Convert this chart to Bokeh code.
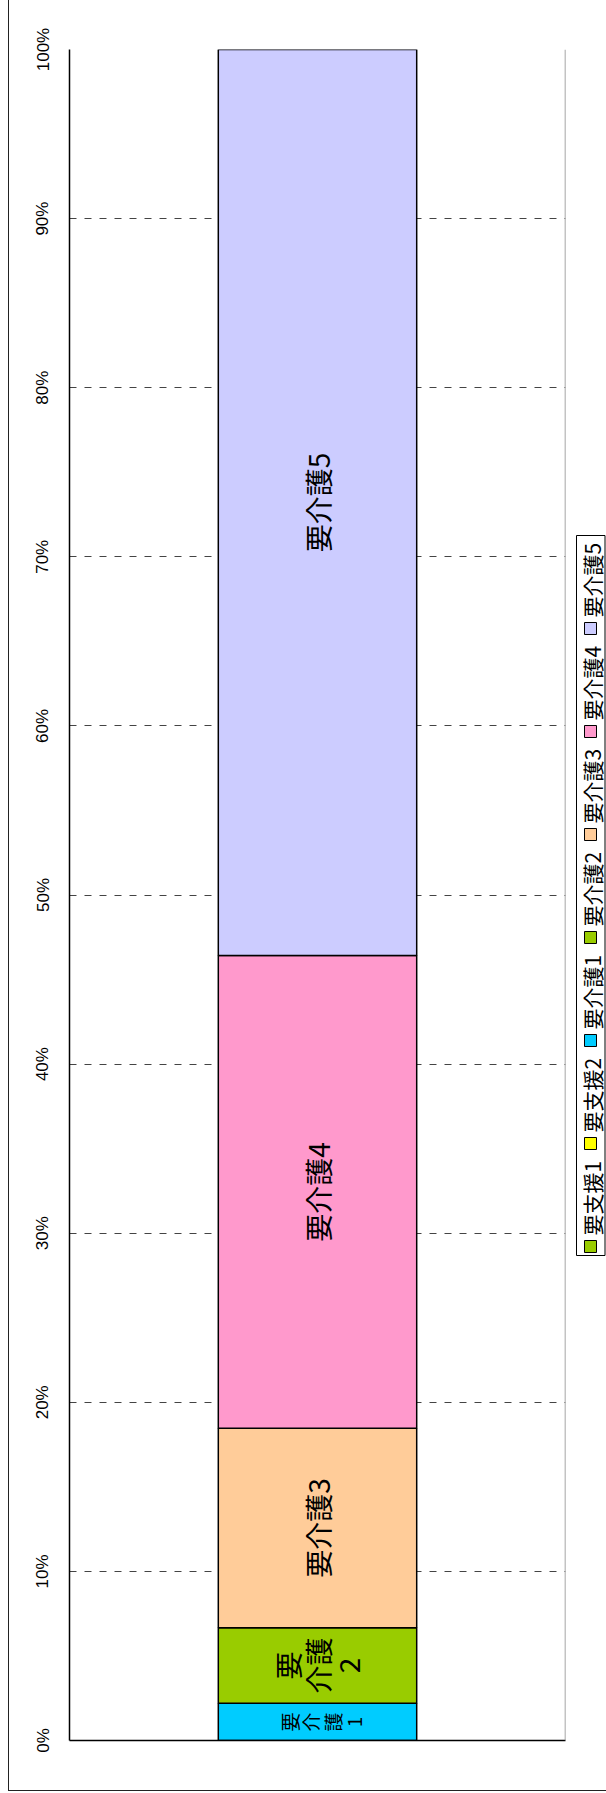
import numpy as np
from bokeh.plotting import figure
from bokeh.models import Range1d, FixedTicker, PrintfTickFormatter, Span, ColumnDataSource
from bokeh.layouts import row
from bokeh.core.properties import value
from bokeh.embed import file_html
from bokeh.resources import INLINE

# ---- data ----
categories = ["要支援1", "要支援2", "要介護1", "要介護2", "要介護3", "要介護4", "要介護5"]
shares = [0.0, 0.0, 2.2, 4.47, 11.8, 27.95, 53.58]
colors = ["#99CC00", "#FFFF00", "#00CCFF", "#99CC00", "#FFCC99", "#FF99CC", "#CCCCFF"]
seg_labels = ["", "", "要\n介\n護\n1", "要\n介護\n2", "要介護3", "要介護4", "要介護5"]
tick_values = list(range(0, 101, 10))

JP = "Noto Sans CJK JP"
H = 1790          # figure height (frame bottom border below it)
TOP, BOT = 49, 1740  # frame top/bottom in page pixels

tops = np.cumsum(shares)
bottoms = tops - np.array(shares)
data = dict(cat=categories, top=list(tops), bottom=list(bottoms), color=colors,
            mid=list((tops + bottoms) / 2), label=seg_labels, x=[0.5] * len(categories))


def subset(idx):
    return ColumnDataSource({k: [v[i] for i in idx] for k, v in data.items()})


nz = [i for i, s in enumerate(shares) if s > 0]

# ---- main chart ----
p = figure(width=561, height=H, output_backend="svg", toolbar_location=None, title=None,
           x_range=Range1d(0, 1), y_range=Range1d(0, 100),
           min_border_left=60, min_border_right=5, min_border_top=TOP, min_border_bottom=H - BOT)
p.outline_line_color = None
p.xgrid.visible = False
p.ygrid.ticker = FixedTicker(ticks=tick_values)
p.ygrid.grid_line_color = "#444444"
p.ygrid.grid_line_dash = "7 8"
p.ygrid.grid_line_width = 1

p.yaxis.ticker = FixedTicker(ticks=tick_values)
p.yaxis.formatter = PrintfTickFormatter(format="%d%%")
p.yaxis.major_label_orientation = "vertical"
p.yaxis.major_label_text_font = "Liberation Sans"
p.yaxis.major_label_text_font_size = "17px"
p.yaxis.major_label_text_color = "#000000"
p.yaxis.major_label_standoff = 17
p.yaxis.major_tick_out = 0
p.yaxis.major_tick_in = 0
p.yaxis.minor_tick_line_color = None
p.yaxis.axis_line_color = "#000000"
p.yaxis.axis_line_width = 1.5

p.xaxis.ticker = FixedTicker(ticks=[])
p.xaxis.major_label_text_font_size = "0px"
p.xaxis.axis_line_color = "#000000"
p.xaxis.axis_line_width = 1.5
p.xaxis.minor_tick_line_color = None

p.add_layout(Span(location=1, dimension="height", line_color="#888888", line_width=1.5))

p.vbar(x="x", width=0.4, top="top", bottom="bottom", fill_color="color",
       line_color="#000000", line_width=1.5, source=subset(nz))

big = [i for i in nz if shares[i] > 3]
small = [i for i in nz if shares[i] <= 3]
p.text(x="x", y="mid", text="label", angle=np.pi / 2, text_align="center",
       text_baseline="middle", text_font=value(JP), text_font_size="28px",
       text_line_height=0.75, text_color="#000000", source=subset(big))
p.text(x="x", y="mid", text="label", angle=np.pi / 2, text_align="center",
       text_baseline="middle", text_font=value(JP), text_font_size="19px",
       text_line_height=0.8, text_color="#000000", x_offset=4, source=subset(small))

# ---- rotated legend strip (same vertical frame as the chart; y = -page_y) ----
lg = figure(width=36, height=H, output_backend="svg", toolbar_location=None, title=None,
            x_range=Range1d(0, 36), y_range=Range1d(-BOT, -TOP),
            x_axis_location=None, y_axis_location=None,
            min_border_left=0, min_border_right=0,
            min_border_top=TOP, min_border_bottom=H - BOT)
lg.grid.visible = False
lg.outline_line_color = None

n = len(categories)
sw_y = [-(1246 - 103 * i) for i in range(n)]
lg.quad(left=[6], right=[34.5], bottom=[-1255], top=[-535],
        fill_color=None, line_color="#000000", line_width=1)
lg.rect(x=[20] * n, y=sw_y, width=12, height=12, fill_color=colors,
        line_color="#000000", line_width=1)
lg.text(x=[21] * n, y=[v + 11 for v in sw_y], text=categories, angle=np.pi / 2,
        text_align="left", text_baseline="middle", text_font=value(JP),
        text_font_size="21px", text_color="#000000")

layout = row(p, lg, spacing=0,
             styles={"margin-left": "8px",
                     "border-left": "1.5px solid #222222",
                     "border-bottom": "1.5px solid #222222"})
open("out.html", "w").write(file_html(layout, INLINE))
